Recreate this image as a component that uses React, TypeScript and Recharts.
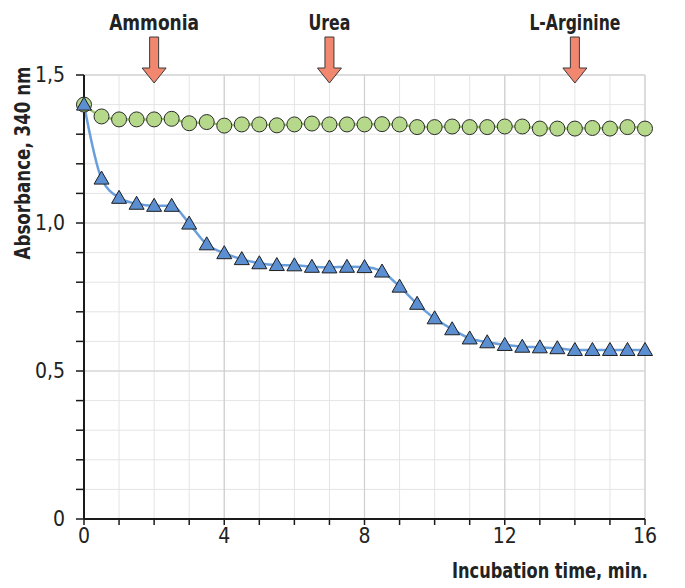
import React from 'react';
import { LineChart, Line, XAxis, YAxis, CartesianGrid, ReferenceLine, ReferenceDot } from 'recharts';

const times = [0, 0.5, 1, 1.5, 2, 2.5, 3, 3.5, 4, 4.5, 5, 5.5, 6, 6.5, 7, 7.5, 8, 8.5, 9, 9.5, 10, 10.5, 11, 11.5, 12, 12.5, 13, 13.5, 14, 14.5, 15, 15.5, 16];
const circleSeries = [1.40, 1.36, 1.35, 1.35, 1.35, 1.352, 1.337, 1.341, 1.329, 1.333, 1.333, 1.330, 1.333, 1.336, 1.333, 1.333, 1.333, 1.334, 1.333, 1.324, 1.324, 1.326, 1.324, 1.324, 1.326, 1.326, 1.319, 1.319, 1.319, 1.321, 1.319, 1.324, 1.319];
const triangleSeries = [1.40, 1.15, 1.085, 1.065, 1.058, 1.058, 0.998, 0.928, 0.898, 0.878, 0.864, 0.858, 0.857, 0.852, 0.850, 0.852, 0.851, 0.836, 0.785, 0.727, 0.678, 0.641, 0.610, 0.597, 0.588, 0.582, 0.580, 0.577, 0.571, 0.571, 0.571, 0.571, 0.571];
const xTicks = [0, 1, 2, 3, 4, 5, 6, 7, 8, 9, 10, 11, 12, 13, 14, 15, 16];
const xLabelTicks = [0, 4, 8, 12, 16];
const yTicks = [0, 0.1, 0.2, 0.3, 0.4, 0.5, 0.6, 0.7, 0.8, 0.9, 1.0, 1.1, 1.2, 1.3, 1.4, 1.5];
const yLabelTicks = [0, 0.5, 1.0, 1.5];
const majorX = [4, 8, 12];
const majorY = [0.5, 1.0];
const annotationX = [2, 7, 14];
const annotationLabels = ['Ammonia', 'Urea', 'L-Arginine'];

// text widths in px (styling, kept apart from data)
const annotationWidths: Record<string, number> = { Ammonia: 90, Urea: 42, 'L-Arginine': 91 };

const data = times.map((t, i) => ({ t, circle: circleSeries[i], triangle: triangleSeries[i] }));

const FONT = "'DejaVu Sans Condensed', 'DejaVu Sans', sans-serif";

const fmtY = (v: number) => {
  const hit = yLabelTicks.find((l) => Math.abs(l - v) < 1e-6);
  if (hit === undefined) return '';
  return hit === 0 ? '0' : hit.toFixed(1).replace('.', ',');
};
const fmtX = (v: number) => (xLabelTicks.includes(v) ? String(v) : '');

const CircleDot = (props: any) => {
  const { cx, cy, index } = props;
  return <circle key={`c${index}`} cx={cx} cy={cy} r={7.5} fill="#b5d88a" stroke="#2b2b2b" strokeWidth={1} />;
};

const TriangleDot = (props: any) => {
  const { cx, cy, index } = props;
  const w = 15;
  const h = 13;
  const pts = `${cx},${cy - h / 2 - 1} ${cx - w / 2},${cy + h / 2 - 1} ${cx + w / 2},${cy + h / 2 - 1}`;
  return <polygon key={`t${index}`} points={pts} fill="#5b8fd1" stroke="#1f1f1f" strokeWidth={1} strokeLinejoin="miter" />;
};

const makeArrow = (label: string) => (props: any) => {
  const { cx, cy } = props;
  const tipY = cy + 8;
  const headTop = tipY - 15;
  const shaftTop = cy - 38;
  const sw = 4.5;
  const hw = 12;
  const pts = [
    [cx - sw, shaftTop],
    [cx + sw, shaftTop],
    [cx + sw, headTop],
    [cx + hw, headTop],
    [cx, tipY],
    [cx - hw, headTop],
    [cx - sw, headTop],
  ]
    .map((p) => p.join(','))
    .join(' ');
  return (
    <g>
      <polygon points={pts} fill="#f2876f" stroke="#3a3a3a" strokeWidth={1} />
      <text
        x={cx}
        y={cy - 45}
        textAnchor="middle"
        fontFamily={FONT}
        fontWeight="bold"
        fontSize={21}
        fill="#222"
        textLength={annotationWidths[label]}
        lengthAdjust="spacingAndGlyphs"
      >
        {label}
      </text>
    </g>
  );
};

export default function App() {
  return (
    <div style={{ position: 'relative', width: 669, height: 572 }}>
      <LineChart width={669} height={572} data={data} margin={{ top: 67, right: 32, bottom: 31, left: 0 }}>
        <CartesianGrid stroke="#e4e4e4" strokeWidth={1} />
        {majorX.map((x) => (
          <ReferenceLine key={`mx${x}`} x={x} stroke="#cfcfcf" strokeWidth={1.2} />
        ))}
        {majorY.map((y) => (
          <ReferenceLine key={`my${y}`} y={y} stroke="#cfcfcf" strokeWidth={1.2} />
        ))}
        <ReferenceLine y={1.5} stroke="#d4d4d4" strokeWidth={1.5} />
        <ReferenceLine x={16} stroke="#d4d4d4" strokeWidth={1.5} />
        <XAxis
          dataKey="t"
          type="number"
          domain={[0, 16]}
          ticks={xTicks}
          interval={0}
          tickFormatter={fmtX}
          height={30}
          tickSize={6}
          tickMargin={3}
          axisLine={{ stroke: '#1a1a1a', strokeWidth: 2 }}
          tickLine={{ stroke: '#1a1a1a', strokeWidth: 1.5 }}
          tick={{ fontFamily: FONT, fontSize: 21, fill: '#222' }}
        />
        <YAxis
          type="number"
          domain={[0, 1.5]}
          ticks={yTicks}
          interval={0}
          tickFormatter={fmtY}
          width={76}
          tickSize={8}
          tickMargin={11}
          axisLine={{ stroke: '#1a1a1a', strokeWidth: 2 }}
          tickLine={{ stroke: '#1a1a1a', strokeWidth: 1.5 }}
          tick={{ fontFamily: FONT, fontSize: 21, fill: '#222' }}
        />
        <Line
          type="monotone"
          dataKey="circle"
          stroke="#9cc46a"
          strokeWidth={2.5}
          dot={CircleDot}
          activeDot={false}
          isAnimationActive={false}
        />
        <Line
          type="monotone"
          dataKey="triangle"
          stroke="#6a9fdb"
          strokeWidth={2.5}
          dot={TriangleDot}
          activeDot={false}
          isAnimationActive={false}
        />
        {annotationX.map((x, i) => (
          <ReferenceDot
            key={annotationLabels[i]}
            x={x}
            y={1.5}
            r={0}
            ifOverflow="visible"
            shape={makeArrow(annotationLabels[i])}
          />
        ))}
      </LineChart>
      <svg
        width={669}
        height={572}
        style={{ position: 'absolute', left: 0, top: 0, pointerEvents: 'none', overflow: 'visible' }}
      >
        <text
          x={0}
          y={0}
          transform="translate(14.5, 155) rotate(-90)"
          textAnchor="middle"
          dominantBaseline="central"
          fontFamily={FONT}
          fontWeight="bold"
          fontSize={21}
          fill="#222"
          textLength={193}
          lengthAdjust="spacingAndGlyphs"
        >
          Absorbance, 340 nm
        </text>
        <text
          x={640}
          y={570}
          textAnchor="end"
          fontFamily={FONT}
          fontWeight="bold"
          fontSize={21}
          fill="#222"
          textLength={196}
          lengthAdjust="spacingAndGlyphs"
        >
          Incubation time, min.
        </text>
      </svg>
    </div>
  );
}
